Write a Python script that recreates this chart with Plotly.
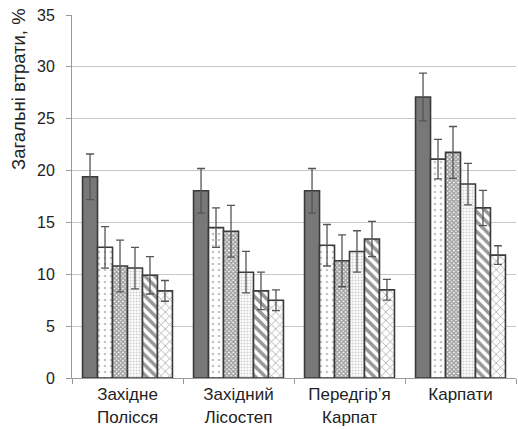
import plotly.graph_objects as go

categories = ["Західне<br>Полісся", "Західний<br>Лісостеп", "Передгір’я<br>Карпат", "Карпати"]

s1 = [19.4, 18.05, 18.05, 27.1]
s2 = [12.6, 14.5, 12.8, 21.1]
s3 = [10.8, 14.15, 11.3, 21.75]
s4 = [10.6, 10.2, 12.2, 18.7]
s5 = [9.9, 8.4, 13.4, 16.4]
s6 = [8.4, 7.5, 8.5, 11.85]

e1 = [2.2, 2.15, 2.15, 2.3]
e2 = [2.0, 1.9, 2.0, 1.9]
e3 = [2.5, 2.5, 2.5, 2.5]
e4 = [2.0, 2.0, 2.0, 2.0]
e5 = [1.8, 1.8, 1.7, 1.7]
e6 = [1.0, 1.0, 1.0, 0.9]

y_title = "Загальні втрати, %"

series = [s1, s2, s3, s4, s5, s6]
errors = [e1, e2, e3, e4, e5, e6]

styles = [
    dict(color="#787878", pattern=dict(shape="")),
    dict(color="white", pattern=dict(shape=".", fgcolor="#8a8a8a", bgcolor="white", size=6, solidity=0.15)),
    dict(color="white", pattern=dict(shape="x", fgcolor="#444444", bgcolor="white", size=3, solidity=0.75)),
    dict(color="white", pattern=dict(shape=".", fgcolor="#a0a0a0", bgcolor="white", size=3, solidity=0.4)),
    dict(color="white", pattern=dict(shape="\\", fgcolor="#2e2e2e", bgcolor="white", size=7, solidity=0.5)),
    dict(color="white", pattern=dict(shape="x", fgcolor="#555555", bgcolor="white", size=6, solidity=0.25)),
]

fig = go.Figure()
for vals, errs, st in zip(series, errors, styles):
    fig.add_trace(go.Bar(
        x=categories, y=vals,
        marker=dict(color=st["color"], pattern=st["pattern"],
                    line=dict(color="#3a3a3a", width=1.6)),
        error_y=dict(type="data", array=errs, visible=True,
                     color="#555555", thickness=1.3, width=4),
        showlegend=False,
    ))

fig.update_layout(
    width=518, height=429,
    margin=dict(l=72, r=2, t=15, b=51),
    paper_bgcolor="white", plot_bgcolor="white",
    barmode="group", bargap=0.19, bargroupgap=0,
    font=dict(family="Liberation Sans, Arial, sans-serif", color="#222222", size=16),
)
fig.update_yaxes(
    range=[0, 35], dtick=5, showgrid=True, gridcolor="#c8c8c8", gridwidth=1,
    showline=True, linecolor="#9a9a9a", linewidth=1,
    ticks="outside", ticklen=5, tickcolor="#9a9a9a", ticklabelstandoff=8,
    tickfont=dict(size=16, color="#222222"),
    zeroline=False, automargin=False,
)
fig.update_xaxes(
    showline=True, linecolor="#9a9a9a", linewidth=1,
    ticks="outside", ticklen=5, tickcolor="#9a9a9a", tickson="boundaries",
    ticklabelstandoff=1, automargin=False,
    tickfont=dict(size=17, color="#222222"),
)
fig.add_annotation(
    text=y_title, textangle=-90, showarrow=False,
    xref="paper", yref="paper",
    x=(19 - 72) / 444, y=(378 - 89) / 363,
    xanchor="center", yanchor="middle",
    font=dict(size=18.5, color="#222222"),
)

fig.write_html("out.html", post_script="document.body.style.margin='0';",
               config={"displayModeBar": False})
